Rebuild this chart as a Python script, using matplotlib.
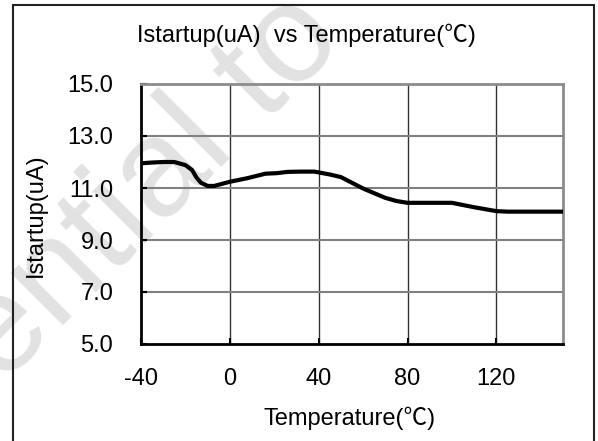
import matplotlib
matplotlib.use('Agg')
import matplotlib.pyplot as plt
from matplotlib.patches import Rectangle

plt.rcParams['font.family'] = ['Liberation Sans', 'Noto Sans CJK SC', 'DejaVu Sans']
plt.rcParams['axes.unicode_minus'] = False

# readings
temps = [-40, -35, -30, -25, -20, -17, -15, -13, -10, -7, 0, 8, 16, 21, 26, 32, 38,
         40, 45, 50, 55, 60, 65, 70, 75, 80, 90, 100, 110, 120, 125, 130, 140, 150]
istart = [11.95, 11.98, 12.0, 12.0, 11.88, 11.69, 11.4, 11.2, 11.08, 11.08, 11.24, 11.38,
          11.55, 11.57, 11.62, 11.63, 11.63, 11.6, 11.52, 11.42, 11.2, 10.98, 10.8, 10.62,
          10.5, 10.43, 10.43, 10.43, 10.26, 10.11, 10.09, 10.09, 10.09, 10.09]

xticks = [-40, 0, 40, 80, 120]
yticks = [5.0, 7.0, 9.0, 11.0, 13.0, 15.0]

W, H = 598, 441
fs = 17
fig = plt.figure(figsize=(W / 100, H / 100), dpi=100)
fig.patch.set_facecolor('white')

# faint watermark behind the chart
fig.text(346 / W, 1 - 42 / H, 'Confidential to', fontsize=100, color='#e2e2e2',
         rotation=45, rotation_mode='anchor', ha='right', va='baseline', zorder=-5)

# outer chart frame
fig.add_artist(Rectangle((13 / W, -0.05), (594 - 13) / W, 1 - 5 / H + 0.05,
                         transform=fig.transFigure, fill=False, ec='#222222', lw=1.5))

ax = fig.add_axes([141 / W, 1 - 344 / H, (563 - 141) / W, (344 - 84) / H])
ax.set_facecolor('none')

ax.plot(temps, istart, color='black', lw=3, solid_joinstyle='round', zorder=5)

ax.set_xlim(-40, 150)
ax.set_ylim(5, 15)
ax.set_xticks(xticks)
ax.set_yticks(yticks)
ax.set_yticklabels([f'{v:.1f}' for v in yticks])

for v in xticks[1:]:
    ax.axvline(v, color='#333333', lw=1, zorder=1)
for v in yticks[1:-1]:
    ax.axhline(v, color='#808080', lw=1.5, zorder=1)

ax.spines['left'].set_color('black')
ax.spines['bottom'].set_color('black')
ax.spines['left'].set_linewidth(2)
ax.spines['bottom'].set_linewidth(2)
ax.spines['top'].set_color('#8c8c8c')
ax.spines['right'].set_color('#8c8c8c')
ax.spines['top'].set_linewidth(2)
ax.spines['right'].set_linewidth(2)

ax.tick_params(axis='both', direction='in', length=4, width=1.5, labelsize=fs)
ax.tick_params(axis='y', pad=20)
ax.tick_params(axis='x', pad=17)

fig.text(306 / W, 1 - 35 / H, 'Istartup(uA)  vs Temperature(℃)', fontsize=fs,
         ha='center', va='center')
ax.set_xlabel('Temperature(℃)', fontsize=fs)
ax.xaxis.set_label_coords((350 - 141) / (563 - 141), (344 - 418) / (344 - 84))
ax.xaxis.label.set_va('center')
ax.set_ylabel('Istartup(uA)', fontsize=fs)
ax.yaxis.set_label_coords((36 - 141) / (563 - 141), (344 - 215) / (344 - 84))
ax.yaxis.label.set_va('center')

fig.savefig('out.png', dpi=100)
